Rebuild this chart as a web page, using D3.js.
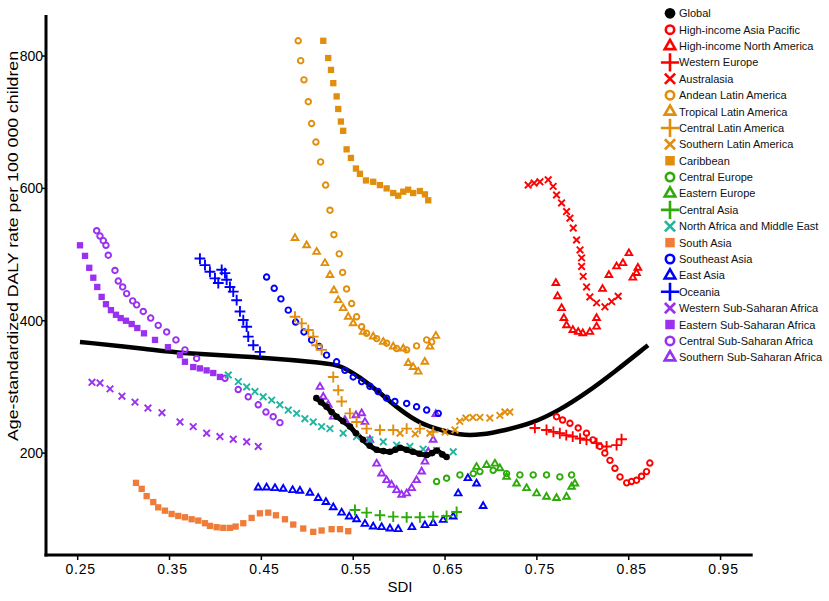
<!DOCTYPE html>
<html>
<head>
<meta charset="utf-8">
<script src="https://cdn.jsdelivr.net/npm/d3@7"></script>
<style>
  body { margin: 0; background: #fff; }
  text { font-family: Arial, "Liberation Sans", sans-serif; }
</style>
</head>
<body>
<div id="chart"></div>
<script>
// values: [SDI, DALY rate]
const globalFit = [[0.2525,368],[0.329,357],[0.3615,351],[0.4485,345],[0.521,336],[0.5355,333],[0.5573,315],[0.579,291],[0.601,265],[0.6225,245],[0.6444,235],[0.666,227],[0.688,227],[0.717,235],[0.745,245],[0.775,265],[0.804,291],[0.833,321],[0.871,363]]
const globalPts = [[0.5099,283],[0.515,277],[0.521,270],[0.5265,262],[0.532,255],[0.539,248],[0.5464,240],[0.553,230],[0.5607,220],[0.568,211],[0.5755,205],[0.583,203],[0.59,202],[0.596,205],[0.601,208],[0.608,205],[0.615,202],[0.622,199],[0.63,197],[0.636,200],[0.641,204],[0.647,198],[0.6517,194]]
const hiAsiaPacific = [[0.7714,255],[0.778,250],[0.786,245],[0.795,238],[0.804,230],[0.811,220],[0.8187,210],[0.824,200],[0.8296,189],[0.835,177],[0.8405,164],[0.8478,155],[0.853,157],[0.8585,159],[0.864,165],[0.8694,172],[0.873,185]]
const hiNorthAmerica = [[0.7707,457],[0.7725,437],[0.7769,419],[0.7794,404],[0.7823,393],[0.7892,386],[0.795,383],[0.8,381],[0.8077,383],[0.815,391],[0.815,404],[0.8215,448],[0.8284,469],[0.8368,482],[0.8437,487],[0.8502,502],[0.8545,465],[0.8585,472],[0.86,480]]
const westernEurope = [[0.7478,238],[0.7605,235],[0.768,232],[0.775,230],[0.782,227],[0.789,225],[0.797,222],[0.804,220],[0.815,215],[0.8259,210],[0.8368,212],[0.8422,221]]
const australasia = [[0.7405,605],[0.747,608],[0.7533,610],[0.7623,613],[0.7677,603],[0.7714,590],[0.7769,578],[0.7823,565],[0.786,555],[0.7896,540],[0.7932,522],[0.797,507],[0.7987,495],[0.7987,482],[0.8004,467],[0.8041,451],[0.8077,436],[0.815,427],[0.8241,421],[0.8314,429],[0.8385,437]]
const andeanLA = [[0.4901,823],[0.4928,793],[0.4964,764],[0.5011,731],[0.5047,698],[0.5094,670],[0.5145,640],[0.52,605],[0.5247,567],[0.529,530],[0.5348,501],[0.5385,473],[0.5428,448],[0.5483,426],[0.5537,406],[0.5592,391],[0.5646,381],[0.5755,373],[0.5864,366],[0.5973,358],[0.6082,356],[0.619,362],[0.63,371],[0.6354,368]]
const tropicalLA = [[0.4866,525],[0.4993,514],[0.5102,504],[0.5192,487],[0.5247,469],[0.529,446],[0.5337,431],[0.5391,419],[0.5446,406],[0.55,396],[0.5609,383],[0.5718,376],[0.5827,368],[0.5936,361],[0.6045,358],[0.6099,336],[0.6153,330],[0.6208,323],[0.628,338],[0.6335,361],[0.64,377]]
const centralLA = [[0.4866,406],[0.4939,396],[0.5011,386],[0.5065,376],[0.5102,363],[0.5156,356],[0.5283,315],[0.5337,295],[0.5374,278],[0.5464,260],[0.5537,247],[0.5646,237],[0.5791,235],[0.5936,235],[0.6082,237],[0.6226,237],[0.6371,232]]
const southernLA = [[0.601,230],[0.6175,229],[0.6335,230],[0.65,232],[0.6608,235],[0.666,248],[0.6727,253],[0.6803,254],[0.688,254],[0.6988,253],[0.7097,257],[0.7152,262],[0.7206,262]]
const caribbean = [[0.5174,823],[0.5228,797],[0.5258,779],[0.5283,759],[0.532,739],[0.5337,720],[0.5366,701],[0.5391,687],[0.5428,659],[0.5475,646],[0.553,630],[0.5573,622],[0.5639,612],[0.5718,610],[0.5791,605],[0.5864,600],[0.5936,593],[0.599,589],[0.6045,595],[0.6099,598],[0.6153,593],[0.6226,596],[0.6281,591],[0.6317,582]]
const centralEurope = [[0.6408,157],[0.6517,162],[0.6662,167],[0.6807,169],[0.688,172],[0.7024,174],[0.717,169],[0.7315,167],[0.746,167],[0.7605,167],[0.775,164],[0.7878,167]]
const easternEurope = [[0.6843,179],[0.6952,182],[0.7043,184],[0.7097,177],[0.717,164],[0.7279,154],[0.7388,147],[0.7497,139],[0.7605,134],[0.7714,132],[0.7823,134],[0.7878,149],[0.7914,154]]
const centralAsia = [[0.5519,114],[0.5646,110],[0.5791,106],[0.5936,104],[0.6082,103],[0.6226,103],[0.6371,104],[0.6517,105],[0.6626,111]]
const northAfricaME = [[0.414,318],[0.4249,308],[0.434,300],[0.443,293],[0.452,285],[0.4612,280],[0.4702,273],[0.4793,265],[0.4884,260],[0.4974,252],[0.5065,247],[0.5156,240],[0.5247,237],[0.5391,230],[0.5537,225],[0.5682,220],[0.5827,217],[0.5973,212],[0.6117,210],[0.6262,206],[0.6408,204],[0.6589,202]]
const southAsia = [[0.3135,155],[0.3197,146],[0.3251,135],[0.3323,126],[0.3377,118],[0.345,113],[0.3523,108],[0.3595,105],[0.3668,103],[0.3741,100],[0.3813,98],[0.3886,94],[0.394,90],[0.4013,88],[0.4085,87],[0.4158,87],[0.422,89],[0.4303,94],[0.4394,102],[0.4484,109],[0.4575,110],[0.4659,106],[0.4757,100],[0.4847,92],[0.4956,86],[0.5065,81],[0.5156,83],[0.5265,85],[0.5356,85],[0.5446,82]]
const southeastAsia = [[0.4557,466],[0.464,449],[0.4713,433],[0.4793,416],[0.4873,398],[0.4964,383],[0.5047,371],[0.513,361],[0.521,348],[0.5319,338],[0.541,325],[0.55,315],[0.5592,308],[0.5682,301],[0.5772,293],[0.5864,283],[0.5954,278],[0.6082,275],[0.619,270],[0.63,265],[0.6426,260]]
const eastAsia = [[0.4466,148],[0.4557,148],[0.4648,147],[0.4738,146],[0.484,144],[0.492,143],[0.5029,140],[0.5119,132],[0.5203,126],[0.5283,118],[0.5374,110],[0.5457,104],[0.5537,100],[0.5628,93],[0.5718,89],[0.5809,88],[0.59,86],[0.599,85],[0.6139,88],[0.6281,91],[0.6371,94],[0.648,99],[0.6589,104],[0.6643,139],[0.6749,162],[0.6843,154],[0.6915,120]]
const oceania = [[0.3831,494],[0.3886,484],[0.394,474],[0.3995,464],[0.4031,457],[0.4068,477],[0.4104,472],[0.4122,462],[0.4158,451],[0.4194,444],[0.4231,431],[0.4267,414],[0.4303,401],[0.434,391],[0.4357,376],[0.4412,363],[0.4485,353]]
const westernSSA = [[0.2656,307],[0.2743,306],[0.2852,297],[0.2982,286],[0.3124,277],[0.3265,268],[0.3418,261],[0.3614,247],[0.3758,240],[0.3904,230],[0.4049,225],[0.4194,221],[0.434,217],[0.4466,210]]
const easternSSA = [[0.2525,514],[0.258,498],[0.2626,480],[0.267,465],[0.2713,451],[0.2761,436],[0.2808,425],[0.2862,416],[0.2917,409],[0.2968,404],[0.3026,400],[0.3088,395],[0.3149,389],[0.3222,381],[0.3342,371],[0.3483,360],[0.3614,348],[0.3668,338],[0.3758,330],[0.3831,328],[0.3904,325],[0.3976,321],[0.4049,315]]
const centralSSA = [[0.2707,536],[0.2743,528],[0.2779,521],[0.2808,514],[0.2833,499],[0.2906,476],[0.2942,460],[0.299,451],[0.3033,441],[0.3099,430],[0.3142,424],[0.3214,414],[0.3295,404],[0.3377,393],[0.3469,383],[0.357,371],[0.3668,356],[0.3795,343],[0.4104,313],[0.4248,296],[0.4357,285],[0.4466,273],[0.455,262],[0.4629,255],[0.4702,246]]
const southernSSA = [[0.5138,300],[0.5174,285],[0.5228,273],[0.5283,255],[0.541,250],[0.553,257],[0.5592,260],[0.5628,247],[0.5682,220],[0.5755,184],[0.5809,169],[0.5864,159],[0.5918,152],[0.5973,144],[0.6027,137],[0.6082,139],[0.6136,147],[0.619,159],[0.6245,172],[0.6281,187],[0.6317,202],[0.6371,220],[0.64,259]]

const xTicks = [0.25, 0.35, 0.45, 0.55, 0.65, 0.75, 0.85, 0.95]
const yTicks = [200, 400, 600, 800]

const orange = "#e08e0b", green = "#2eaa0a", purple = "#9a30f0"
const series = [
  {name: "Global", data: globalPts, color: "#000", shape: "dot"},
  {name: "High-income Asia Pacific", data: hiAsiaPacific, color: "#ff0000", shape: "circle"},
  {name: "High-income North America", data: hiNorthAmerica, color: "#ff0000", shape: "triangle"},
  {name: "Western Europe", data: westernEurope, color: "#ff0000", shape: "plus"},
  {name: "Australasia", data: australasia, color: "#ff0000", shape: "times"},
  {name: "Andean Latin America", data: andeanLA, color: orange, shape: "circle"},
  {name: "Tropical Latin America", data: tropicalLA, color: orange, shape: "triangle"},
  {name: "Central Latin America", data: centralLA, color: orange, shape: "plus"},
  {name: "Southern Latin America", data: southernLA, color: orange, shape: "times"},
  {name: "Caribbean", data: caribbean, color: orange, shape: "square"},
  {name: "Central Europe", data: centralEurope, color: green, shape: "circle"},
  {name: "Eastern Europe", data: easternEurope, color: green, shape: "triangle"},
  {name: "Central Asia", data: centralAsia, color: green, shape: "plus"},
  {name: "North Africa and Middle East", data: northAfricaME, color: "#1fb5a0", shape: "times"},
  {name: "South Asia", data: southAsia, color: "#f07c3a", shape: "square"},
  {name: "Southeast Asia", data: southeastAsia, color: "#0000ff", shape: "circle"},
  {name: "East Asia", data: eastAsia, color: "#0000ff", shape: "triangle"},
  {name: "Oceania", data: oceania, color: "#0000ff", shape: "plus"},
  {name: "Western Sub-Saharan Africa", data: westernSSA, color: purple, shape: "times"},
  {name: "Eastern Sub-Saharan Africa", data: easternSSA, color: purple, shape: "square"},
  {name: "Central Sub-Saharan Africa", data: centralSSA, color: purple, shape: "circle"},
  {name: "Southern Sub-Saharan Africa", data: southernSSA, color: purple, shape: "triangle"}
]

const width = 829, height = 601
const svg = d3.select("#chart").append("svg")
  .attr("width", width).attr("height", height)

const x = d3.scaleLinear().domain([0.2155, 0.985]).range([46, 752.7])
const y = d3.scaleLinear().domain([46, 862]).range([555, 15])

// marker shapes
const shapeType = {
  dot: d3.symbolCircle, circle: d3.symbolCircle, triangle: d3.symbolTriangle2,
  plus: d3.symbolPlus, times: d3.symbolTimes, square: d3.symbolSquare
}
const filled = s => s === "dot" || s === "square"
const plotSize = {dot: 34, circle: 24, triangle: 32, plus: 40, times: 30, square: 40}
const legendSize = {dot: 90, circle: 55, triangle: 80, plus: 110, times: 70, square: 90}

function styleMark(sel, d, w) {
  if (filled(d.shape)) sel.attr("fill", d.color).attr("stroke", "none")
  else sel.attr("fill", "none").attr("stroke", d.color).attr("stroke-width", w)
}

const lineGen = d3.line().x(d => x(d[0])).y(d => y(d[1]))

// global fitted curve
svg.append("path")
  .attr("d", lineGen.curve(d3.curveBasis)(globalFit))
  .attr("fill", "none").attr("stroke", "#000").attr("stroke-width", 4.5)

// global points sit close together in the original, joined here
svg.append("path")
  .attr("d", lineGen.curve(d3.curveMonotoneX)(globalPts))
  .attr("fill", "none").attr("stroke", "#000").attr("stroke-width", 5)

series.slice().reverse().forEach(function(s) {
  const sym = d3.symbol().type(shapeType[s.shape]).size(plotSize[s.shape])
  svg.append("g").selectAll("path").data(s.data).enter().append("path")
    .attr("transform", d => "translate(" + x(d[0]) + "," + y(d[1]) + ")")
    .attr("d", sym)
    .each(function() { styleMark(d3.select(this), s, 1.9) })
})

// axes
const axisG = svg.append("g")
axisG.append("line").attr("x1", 46).attr("x2", 46).attr("y1", 15).attr("y2", 556.5)
  .attr("stroke", "#000").attr("stroke-width", 3)
axisG.append("line").attr("x1", 44.5).attr("x2", 752.7).attr("y1", 555).attr("y2", 555)
  .attr("stroke", "#000").attr("stroke-width", 3)

xTicks.forEach(function(t) {
  axisG.append("line").attr("x1", x(t)).attr("x2", x(t)).attr("y1", 555).attr("y2", 560)
    .attr("stroke", "#000").attr("stroke-width", 1.5)
  axisG.append("text").attr("x", x(t) + 3).attr("y", 574)
    .attr("text-anchor", "middle").style("font-size", "14px").style("letter-spacing", "0.8px")
    .text(d3.format(".2f")(t))
})
yTicks.forEach(function(t) {
  axisG.append("line").attr("x1", 42).attr("x2", 46).attr("y1", y(t)).attr("y2", y(t))
    .attr("stroke", "#000").attr("stroke-width", 1.5)
  axisG.append("text").attr("x", 43).attr("y", y(t) + 5)
    .attr("text-anchor", "end").style("font-size", "14px")
    .text(t)
})

svg.append("text").attr("x", 400).attr("y", 592).attr("text-anchor", "middle")
  .style("font-size", "15px").text("SDI")
svg.append("text").attr("transform", "translate(18,246) rotate(-90)")
  .attr("text-anchor", "middle").style("font-size", "15.5px")
  .attr("textLength", 390).attr("lengthAdjust", "spacingAndGlyphs")
  .text("Age-standardized DALY rate per 100 000 children")

// legend
const legend = svg.selectAll(".legendItem").data(series).enter().append("g")
  .attr("class", "legendItem")
  .attr("transform", (d, i) => "translate(670," + (13.3 + i * 16.38) + ")")
legend.append("path")
  .attr("d", d => d3.symbol().type(shapeType[d.shape]).size(legendSize[d.shape])())
  .each(function(d) { styleMark(d3.select(this), d, 2.6) })
legend.append("text").attr("x", 9).attr("y", 4)
  .style("font-size", "11px").style("fill", "#111")
  .text(d => d.name)
</script>
</body>
</html>
